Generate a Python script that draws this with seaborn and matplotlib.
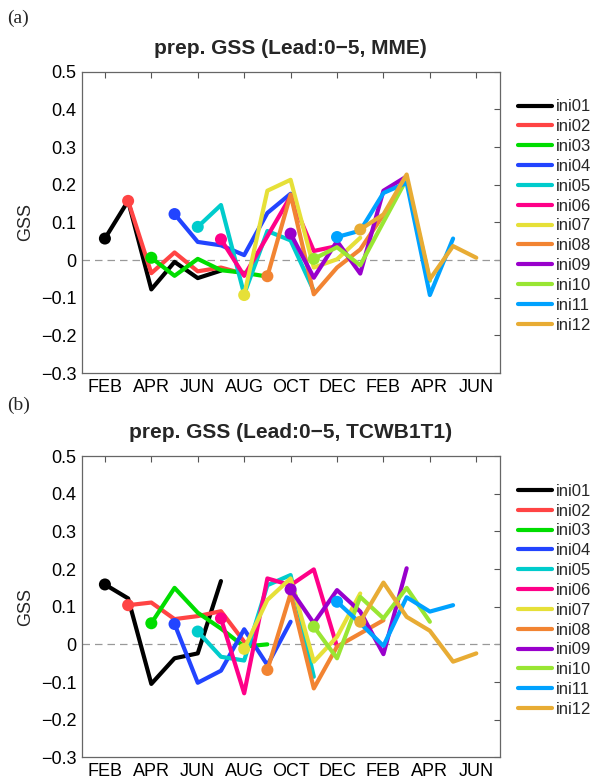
import matplotlib
matplotlib.use("Agg")
import matplotlib.pyplot as plt
import pandas as pd
import seaborn as sns

# month index 1 = JAN of the first year, 13 = JAN of the next year
tick_pos = [2, 4, 6, 8, 10, 12, 14, 16, 18]
tick_labels = ["FEB", "APR", "JUN", "AUG", "OCT", "DEC", "FEB", "APR", "JUN"]

ini_names = [f"ini{i:02d}" for i in range(1, 13)]
start_month = [2, 3, 4, 5, 6, 7, 8, 9, 10, 11, 12, 13]
leads = [0, 1, 2, 3, 4, 5]

# panel (a): MME
gss_mme = {
    "ini01": [0.057, 0.157, -0.078, -0.005, -0.048, -0.028],
    "ini02": [0.157, -0.035, 0.020, -0.030, -0.020, -0.037],
    "ini03": [0.006, -0.042, 0.003, -0.027, -0.034, -0.044],
    "ini04": [0.122, 0.048, 0.039, 0.013, 0.125, 0.176],
    "ini05": [0.088, 0.146, -0.091, 0.077, 0.052, -0.082],
    "ini06": [0.055, -0.042, 0.063, 0.169, 0.024, 0.037],
    "ini07": [-0.093, 0.184, 0.213, -0.020, 0.002, 0.059],
    "ini08": [-0.043, 0.174, -0.091, -0.020, 0.028, 0.120],
    "ini09": [0.070, -0.047, 0.050, -0.036, 0.184, 0.222],
    "ini10": [0.003, 0.034, -0.014, 0.101, 0.215, -0.055],
    "ini11": [0.061, 0.078, 0.178, 0.205, -0.093, 0.057],
    "ini12": [0.081, 0.121, 0.227, -0.051, 0.037, 0.006],
}

# panel (b): TCWB1T1
gss_tcwb = {
    "ini01": [0.159, 0.122, -0.105, -0.037, -0.024, 0.168],
    "ini02": [0.104, 0.111, 0.067, 0.075, 0.088, 0.007],
    "ini03": [0.056, 0.150, 0.084, 0.042, -0.006, 0.000],
    "ini04": [0.054, -0.102, -0.070, 0.040, -0.055, 0.060],
    "ini05": [0.034, -0.033, -0.043, 0.157, 0.184, -0.086],
    "ini06": [0.069, -0.130, 0.175, 0.157, 0.199, -0.006],
    "ini07": [-0.012, 0.118, 0.175, -0.046, 0.020, 0.135],
    "ini08": [-0.068, 0.135, -0.117, -0.006, 0.029, 0.064],
    "ini09": [0.146, 0.056, 0.144, 0.087, -0.026, 0.202],
    "ini10": [0.047, -0.037, 0.126, 0.069, 0.150, 0.060],
    "ini11": [0.113, 0.056, -0.004, 0.125, 0.087, 0.104],
    "ini12": [0.060, 0.164, 0.073, 0.036, -0.046, -0.024],
}

colors = ["#000000", "#ff4444", "#00dd00", "#2244ff", "#00cccc", "#ff0088",
          "#e6e038", "#f28432", "#9900cc", "#99e633", "#00a2ff", "#e8ac34"]
palette = dict(zip(ini_names, colors))


def to_frame(gss):
    rows = []
    for name, s in zip(ini_names, start_month):
        for lead, v in zip(leads, gss[name]):
            rows.append({"ini": name, "month": s + lead, "lead": lead, "gss": v})
    return pd.DataFrame(rows)


def draw_panel(ax, gss, title):
    df = to_frame(gss)
    ax.axhline(0, color="#999999", lw=0.9, ls=(0, (6, 4)), zorder=1)
    sns.lineplot(data=df, x="month", y="gss", hue="ini", palette=palette,
                 hue_order=ini_names, lw=3, ax=ax, legend=True, zorder=3)
    sns.scatterplot(data=df[df["lead"] == 0], x="month", y="gss", hue="ini",
                    palette=palette, hue_order=ini_names, s=75, linewidth=0,
                    ax=ax, legend=False, zorder=4)
    ax.set_xlim(1, 19)
    ax.set_ylim(-0.3, 0.5)
    ax.set_xticks(tick_pos)
    ax.set_xticklabels(tick_labels)
    ax.set_yticks([-0.3, -0.2, -0.1, 0, 0.1, 0.2, 0.3, 0.4, 0.5])
    ax.set_yticklabels(["\u22120.3", "\u22120.2", "\u22120.1", "0", "0.1", "0.2", "0.3", "0.4", "0.5"])
    ax.tick_params(direction="in", top=True, right=True, length=4, width=0.8,
                   labelsize=13, colors="#555555", labelcolor="black", pad=4)
    ax.set_xlabel("")
    ax.set_ylabel("GSS", fontsize=13, labelpad=5)
    ax.set_title(title, fontsize=15, fontweight="bold", pad=13)
    for sp in ax.spines.values():
        sp.set_color("#666666")
        sp.set_linewidth(0.9)
    ax.grid(False)
    ax.legend(loc="upper left", bbox_to_anchor=(1.044, 0.908), frameon=False,
              fontsize=12, handlelength=2.06, handletextpad=0.24,
              labelspacing=0.29, borderpad=0, borderaxespad=0)


sns.set_theme(style="white")
plt.rcParams["font.family"] = ["Liberation Sans", "DejaVu Sans"]

fig = plt.figure(figsize=(5.95, 7.81), dpi=100)
ax_a = fig.add_axes([0.1373, 0.5224, 0.7022, 0.3858])
ax_b = fig.add_axes([0.1373, 0.0303, 0.7022, 0.3858])

draw_panel(ax_a, gss_mme, "prep. GSS (Lead:0\u22125, MME)")
draw_panel(ax_b, gss_tcwb, "prep. GSS (Lead:0\u22125, TCWB1T1)")

fig.text(0.012, 1 - 18 / 781, "(a)", family="Liberation Serif", fontsize=14, va="center")
fig.text(0.012, 1 - 405 / 781, "(b)", family="Liberation Serif", fontsize=14, va="center")

fig.savefig("out.png", dpi=100)
